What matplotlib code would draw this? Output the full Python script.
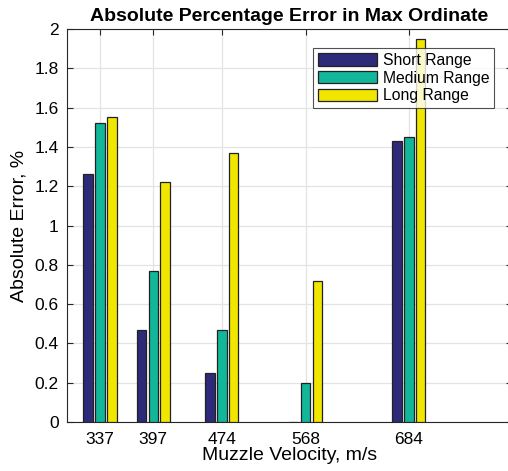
import numpy as np
import matplotlib
matplotlib.use("Agg")
import matplotlib.pyplot as plt

plt.rcParams['font.family'] = ['Liberation Sans', 'DejaVu Sans']

velocities = [337, 397, 474, 568, 684]
series_names = ["Short Range", "Medium Range", "Long Range"]
short_range = [1.26, 0.47, 0.25, 0.0, 1.43]
medium_range = [1.52, 0.77, 0.47, 0.20, 1.45]
long_range = [1.55, 1.22, 1.37, 0.72, 1.95]
colors = ["#2e2a7a", "#12b79a", "#f0e600"]

fig = plt.figure(figsize=(5.08, 4.71), dpi=100)
W, H = 508, 471
left, right, top, bottom = 67, 512, 29, 422
ax = fig.add_axes([left / W, 1 - bottom / H, (right - left) / W, (bottom - top) / H])

x = np.array(velocities, dtype=float)
spacing = np.min(np.diff(x))
group_w = spacing * 2 / 3
step = group_w / 3
bar_w = step * 0.8
all_series = [short_range, medium_range, long_range]
for i, (vals, name, c) in enumerate(zip(all_series, series_names, colors)):
    offs = (i - 1) * step
    ax.bar(x + offs, vals, width=bar_w, color=c, edgecolor="#222222",
           linewidth=0.9, label=name, zorder=3)

ax.set_xlim(300, 800)
ax.set_ylim(0, 2)
ax.set_xticks(velocities)
ax.set_xticklabels([str(v) for v in velocities])
ax.set_yticks(np.arange(0, 2.01, 0.2))
ax.set_yticklabels(["0", "0.2", "0.4", "0.6", "0.8", "1", "1.2", "1.4", "1.6", "1.8", "2"])
ax.tick_params(direction="in", length=4, labelsize=12.5, pad=6, color="#262626",
               top=True, right=True)
ax.tick_params(axis="x", pad=7.5)
ax.grid(True, color="#e3e3e3", linewidth=0.9, zorder=0)
ax.set_axisbelow(True)
for s in ax.spines.values():
    s.set_color("#262626")
    s.set_linewidth(0.8)

ax.set_title("Absolute Percentage Error in Max Ordinate", fontsize=14,
             fontweight="bold", pad=6)
ax.set_xlabel("Muzzle Velocity, m/s", fontsize=14, labelpad=0)
ax.set_ylabel("Absolute Error, %", fontsize=14, labelpad=5)

leg = ax.legend(loc="upper left", bbox_to_anchor=((313 - left) / (right - left),
                1 - (48 - top) / (bottom - top)),
                fontsize=11.3, frameon=True, fancybox=False, edgecolor="#262626",
                handlelength=3.75, handleheight=0.85, handletextpad=0.4,
                labelspacing=0.18, borderpad=0.3, borderaxespad=0)
leg.get_frame().set_linewidth(0.8)
leg.set_zorder(5)

fig.savefig("out.png", dpi=100)
